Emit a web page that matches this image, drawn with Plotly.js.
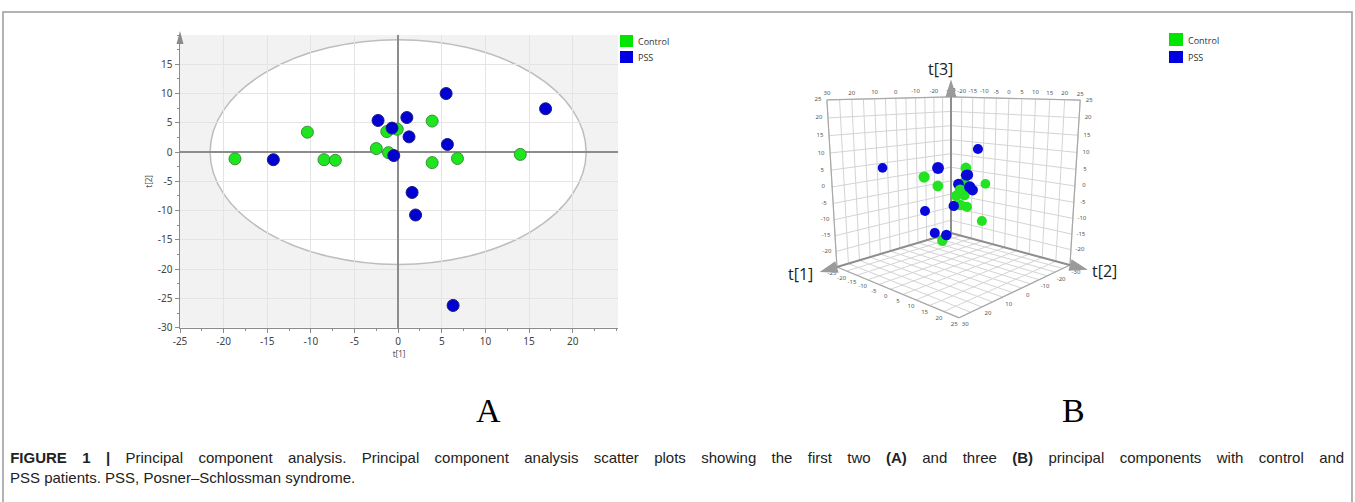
<!DOCTYPE html>
<html>
<head>
<meta charset="utf-8">
<script src="https://cdn.plot.ly/plotly-3.0.1.min.js"></script>
<style>
html,body{margin:0;padding:0;background:#fff;}
#chart{width:1355px;height:502px;}
g.annotation[data-index="9"] text.annotation-text{word-spacing:11.2px;}
</style>
</head>
<body>
<div id="chart"></div>
<script>
// ---- data ----
const seriesNames = ["Control", "PSS"];
const controlT1 = [-18.7, -10.4, -8.5, -7.2, -2.5, -1.3, -0.1, -1.1, 3.9, 3.9, 6.8, 14.0];
const controlT2 = [-1.15, 3.4, -1.3, -1.4, 0.6, 3.5, 3.9, -0.1, 5.3, -1.8, -1.1, -0.4];
const controlT3 = [-1.6, -11.7, -7.7, 0.3, -5.9, 5.8, -2.0, -3.0, 0.2, -16.5, 0.8, 4.3];
const pssT1 = [-14.3, -2.3, -0.7, -0.5, 1.0, 1.25, 5.5, 5.65, 16.9, 1.6, 2.0, 6.3];
const pssT2 = [-1.3, 5.4, 4.1, -0.6, 5.9, 2.6, 10.0, 1.3, 7.4, -6.9, -10.75, -26.2];
const pssT3 = [9.9, -0.6, 3.8, -6.1, 4.3, 1.2, 1.9, -13.7, 8.0, -15.5, -9.1, 3.2];
// panel A ticks
const xTicks = [-25, -20, -15, -10, -5, 0, 5, 10, 15, 20];
const yTicks = [-30, -25, -20, -15, -10, -5, 0, 5, 10, 15];
const xRangeA = [-25, 25.2], yRangeA = [-30, 20];
const ellipse = {rx: 21.55, ry: 19.2};
// panel B axes (t[1], t[2], t[3]) ranges, grid and tick labels
const t1Range = [-30, 30], t2Range = [-25, 25], t3Range = [-25, 25];
const t1Grid = [-30, -25, -20, -15, -10, -5, 0, 5, 10, 15, 20, 25, 30];
const t2Grid = [-25, -20, -15, -10, -5, 0, 5, 10, 15, 20, 25];
const t3Grid = [-25, -20, -15, -10, -5, 0, 5, 10, 15, 20, 25];
const t1Labels = [-30, -20, -10, 0, 10, 20, 30];
const t2Labels = [-25, -20, -15, -10, -5, 0, 5, 10, 15, 20, 25];
const t3Labels = [-20, -15, -10, -5, 0, 5, 10, 15, 20, 25];
const captionLine1 = "<b>FIGURE 1 |</b> Principal component analysis. Principal component analysis scatter plots showing the first two <b>(A)</b> and three <b>(B)</b> principal components with control and";
const captionLine2 = "PSS patients. PSS, Posner\u2013Schlossman syndrome.";

// ---- styling / geometry ----
const W = 1355, H = 502;
const px = v => v / W;
const py = v => 1 - v / H;
const GREEN = "#1ee61e", GREEN_EDGE = "#3b8f3b";
const BLUE = "#0000d2", BLUE_EDGE = "#1a1a80";
const GREEN3 = "#22e222", BLUE3 = "#0808d8";
const tickFont = {family: "Noto Sans, Open Sans, sans-serif", size: 10, color: "#444"};

// perspective camera of panel B (maps normalised box coords to page pixels)
const norm = (v, r) => (v - r[0]) / (r[1] - r[0]);
function proj(X, Y, Z) {
  const d = 1 - 0.1868 * X - 0.1767 * Y - 0.0656 * Z;
  return [(951 - 270.4 * X - 70.1 * Y - 62.4 * Z) / d, (233 - 15.9 * X - 14.8 * Y - 142.4 * Z) / d, d];
}

// grid lines on the two back walls and the floor
const gx = [], gy = [], ex = [], ey = [];
function seg(a, b, xs, ys) { const p = proj(...a), q = proj(...b); xs.push(p[0], q[0], null); ys.push(p[1], q[1], null); }
t1Grid.forEach(t => { const X = norm(t, t1Range); seg([X, 0, 0], [X, 0, 1], gx, gy); seg([X, 0, 0], [X, 1, 0], gx, gy); });
t2Grid.forEach(t => { const Y = norm(t, t2Range); seg([0, Y, 0], [0, Y, 1], gx, gy); seg([0, Y, 0], [1, Y, 0], gx, gy); });
t3Grid.forEach(t => { const Z = norm(t, t3Range); seg([0, 0, Z], [1, 0, Z], gx, gy); seg([0, 0, Z], [0, 1, Z], gx, gy); });
// box outline
[[[1,0,0],[1,0,1]], [[0,0,1],[1,0,1]], [[0,1,0],[0,1,1]], [[0,0,1],[0,1,1]], [[1,0,0],[1,1,0]], [[0,1,0],[1,1,0]]]
  .forEach(s => seg(s[0], s[1], ex, ey));
// main axes (darker) with arrow heads
const axX = [], axY = [];
seg([0, 0, 0], [0, 0, 1.03], axX, axY); seg([0, 0, 0], [1.03, 0, 0], axX, axY); seg([0, 0, 0], [0, 1.03, 0], axX, axY);
function arrowPath(base, tip, half) {
  const b = proj(...base), t = proj(...tip);
  const dx = t[0] - b[0], dy = t[1] - b[1], L = Math.hypot(dx, dy);
  const nx = -dy / L * half, ny = dx / L * half;
  return `M ${b[0] + nx} ${b[1] + ny} L ${t[0]} ${t[1]} L ${b[0] - nx} ${b[1] - ny} Z`;
}

// tick label text
const lx = [], ly = [], lt = [];
function lab(p, dx, dy, s) { lx.push(p[0] + dx); ly.push(p[1] + dy); lt.push(String(s)); }
t1Labels.forEach(t => lab(proj(norm(t, t1Range), 0, 1), 0, -6, t));
t2Labels.forEach(t => lab(proj(0, norm(t, t2Range), 1), 0, -6, t));
t3Labels.forEach(t => { lab(proj(0, 1, norm(t, t3Range)), 9, 0, t); lab(proj(1, 0, norm(t, t3Range)), -9, 0, t); });
t2Labels.forEach(t => lab(proj(1, norm(t, t2Range), 0), -5, 7, t));
t1Labels.forEach(t => lab(proj(norm(t, t1Range), 1, 0), 6, 7, t));

// data points of panel B, far ones drawn first
const pts = [];
controlT1.forEach((v, i) => pts.push({p: proj(norm(v, t1Range), norm(controlT2[i], t2Range), norm(controlT3[i], t3Range)), c: GREEN3}));
pssT1.forEach((v, i) => pts.push({p: proj(norm(v, t1Range), norm(pssT2[i], t2Range), norm(pssT3[i], t3Range)), c: BLUE3}));
pts.sort((a, b) => b.p[2] - a.p[2]);

// panel A background: light grey outside the confidence ellipse (rectangle with elliptic hole)
const k = 0.5523, rx = ellipse.rx, ry = ellipse.ry;
const bgPath = `M ${xRangeA[0]} ${yRangeA[0]} L ${xRangeA[1]} ${yRangeA[0]} L ${xRangeA[1]} ${yRangeA[1]} L ${xRangeA[0]} ${yRangeA[1]} Z ` +
  `M ${rx} 0 C ${rx} ${-k * ry} ${k * rx} ${-ry} 0 ${-ry} C ${-k * rx} ${-ry} ${-rx} ${-k * ry} ${-rx} 0 ` +
  `C ${-rx} ${k * ry} ${-k * rx} ${ry} 0 ${ry} C ${k * rx} ${ry} ${rx} ${k * ry} ${rx} 0 Z`;

const traces = [
  {type: "scatter", mode: "markers", name: seriesNames[0], x: controlT1, y: controlT2,
   marker: {size: 12, color: GREEN, opacity: 1, line: {color: GREEN_EDGE, width: 1}}, showlegend: false, hoverinfo: "none"},
  {type: "scatter", mode: "markers", name: seriesNames[1], x: pssT1, y: pssT2,
   marker: {size: 12, color: BLUE, opacity: 1, line: {color: BLUE_EDGE, width: 1}}, showlegend: false, hoverinfo: "none"},
  {type: "scatter", mode: "lines", x: gx, y: gy, xaxis: "x2", yaxis: "y2", line: {color: "#d4d4d4", width: 1}, hoverinfo: "none"},
  {type: "scatter", mode: "lines", x: ex, y: ey, xaxis: "x2", yaxis: "y2", line: {color: "#a8a8a8", width: 1.2}, hoverinfo: "none"},
  {type: "scatter", mode: "lines", x: axX, y: axY, xaxis: "x2", yaxis: "y2", line: {color: "#8e8e8e", width: 2}, hoverinfo: "none"},
  {type: "scatter", mode: "text", x: lx, y: ly, text: lt, xaxis: "x2", yaxis: "y2",
   textfont: {family: "Noto Sans, sans-serif", size: 6, color: "#555"}, hoverinfo: "none"},
  {type: "scatter", mode: "markers", x: pts.map(o => o.p[0]), y: pts.map(o => o.p[1]), xaxis: "x2", yaxis: "y2",
   marker: {size: pts.map(o => 8.3 / o.p[2]), color: pts.map(o => o.c), opacity: 1, line: {width: 0}}, hoverinfo: "none"}
];

const shapes = [
  // outer figure frame
  {type: "rect", xref: "paper", yref: "paper", x0: px(3), x1: px(1352), y0: py(505), y1: py(12),
   line: {color: "#9a9a9a", width: 1.5}, fillcolor: "rgba(0,0,0,0)"},
  // grey region outside the ellipse
  {type: "path", xref: "x", yref: "y", path: bgPath, fillcolor: "rgba(0,0,0,0.05)", line: {width: 0}, layer: "below"},
  // confidence ellipse outline
  {type: "circle", xref: "x", yref: "y", x0: -rx, x1: rx, y0: -ry, y1: ry,
   fillcolor: "rgba(0,0,0,0)", line: {color: "#bdbdbd", width: 1.5}, layer: "below"},
  // y axis arrow
  {type: "path", xref: "paper", yref: "paper",
   path: `M ${px(176.5)} ${py(44)} L ${px(180)} ${py(31)} L ${px(183.5)} ${py(44)} Z`,
   fillcolor: "#8a8a8a", line: {width: 0}},
  // legend A
  {type: "rect", xref: "paper", yref: "paper", x0: px(620), x1: px(633), y0: py(47), y1: py(35), fillcolor: "#00e600", line: {width: 0}},
  {type: "rect", xref: "paper", yref: "paper", x0: px(620), x1: px(633), y0: py(63), y1: py(51), fillcolor: "#0000e0", line: {width: 0}},
  // legend B
  {type: "rect", xref: "paper", yref: "paper", x0: px(1169), x1: px(1183), y0: py(46), y1: py(33), fillcolor: "#00e600", line: {width: 0}},
  {type: "rect", xref: "paper", yref: "paper", x0: px(1169), x1: px(1183), y0: py(63), y1: py(51), fillcolor: "#0000e0", line: {width: 0}},
  // 3D axis arrow heads
  {type: "path", xref: "x2", yref: "y2", path: arrowPath([0, 0, 1.0], [0, 0, 1.12], 5.5), fillcolor: "#9a9a9a", line: {width: 0}},
  {type: "path", xref: "x2", yref: "y2", path: arrowPath([1.0, 0, 0], [1.12, 0, 0], 6), fillcolor: "#9a9a9a", line: {width: 0}},
  {type: "path", xref: "x2", yref: "y2", path: arrowPath([0, 1.0, 0], [0, 1.12, 0], 6), fillcolor: "#9a9a9a", line: {width: 0}}
];

const legFont = {family: "Open Sans, Noto Sans, sans-serif", size: 9, color: "#333"};
const ann = (x, y, text, font, extra) => Object.assign({xref: "paper", yref: "paper", x: px(x), y: py(y), text: text,
  showarrow: false, font: font, xanchor: "left", yanchor: "middle"}, extra || {});
const axTitleFont = {family: "Open Sans, sans-serif", size: 16, color: "#222"};
const annotations = [
  ann(636, 41, seriesNames[0], legFont),
  ann(636, 57, seriesNames[1], legFont),
  ann(1186, 40, seriesNames[0], legFont),
  ann(1186, 57, seriesNames[1], legFont),
  ann(800, 274, "t[1]", axTitleFont, {xanchor: "center"}),
  ann(1104, 271, "t[2]", axTitleFont, {xanchor: "center"}),
  ann(940, 69, "t[3]", axTitleFont, {xanchor: "center"}),
  ann(488, 410, "A", {family: "Liberation Serif, serif", size: 34, color: "#000"}, {xanchor: "center"}),
  ann(1073, 410, "B", {family: "Liberation Serif, serif", size: 34, color: "#000"}, {xanchor: "center"}),
  // justified first caption line: centred so the extra word spacing spreads evenly to both margins
  ann(676.5, 457, captionLine1, {family: "Liberation Sans, sans-serif", size: 15, color: "#222"}, {xanchor: "center"}),
  ann(8, 477, captionLine2, {family: "Liberation Sans, sans-serif", size: 15, color: "#222"})
];

const layout = {
  width: W, height: H, margin: {l: 0, r: 0, t: 0, b: 0},
  paper_bgcolor: "#ffffff", plot_bgcolor: "#ffffff", showlegend: false, hovermode: false,
  xaxis: {domain: [px(180), px(618)], range: xRangeA, tickvals: xTicks, ticktext: xTicks.map(String),
          showgrid: true, gridcolor: "#e4e4e4", zeroline: true, zerolinecolor: "#8c8c8c", zerolinewidth: 1.5,
          showline: true, linecolor: "#8c8c8c", linewidth: 1.5, ticks: "outside", ticklen: 4, tickcolor: "#8c8c8c",
          minor: {dtick: 2.5, ticks: "outside", ticklen: 2, tickcolor: "#8c8c8c", showgrid: false},
          tickfont: tickFont, fixedrange: true,
          title: {text: "t[1]", font: {family: "Noto Sans, sans-serif", size: 8, color: "#555"}, standoff: 0}},
  yaxis: {domain: [py(327.7), py(35)], range: yRangeA, tickvals: yTicks, ticktext: yTicks.map(String),
          showgrid: true, gridcolor: "#e4e4e4", zeroline: true, zerolinecolor: "#8c8c8c", zerolinewidth: 1.5,
          showline: true, linecolor: "#8c8c8c", linewidth: 1.5, ticks: "outside", ticklen: 4, tickcolor: "#8c8c8c",
          minor: {dtick: 2.5, ticks: "outside", ticklen: 2, tickcolor: "#8c8c8c", showgrid: false},
          tickfont: tickFont, fixedrange: true,
          title: {text: "t[2]", font: {family: "Noto Sans, sans-serif", size: 8, color: "#555"}, standoff: 4}},
  xaxis2: {domain: [px(760), px(1140)], range: [760, 1140], anchor: "y2", visible: false, fixedrange: true},
  yaxis2: {domain: [py(340), py(55)], range: [340, 55], anchor: "x2", visible: false, fixedrange: true},
  shapes: shapes, annotations: annotations
};

Plotly.newPlot("chart", traces, layout, {displayModeBar: false, staticPlot: true});
</script>
</body>
</html>
